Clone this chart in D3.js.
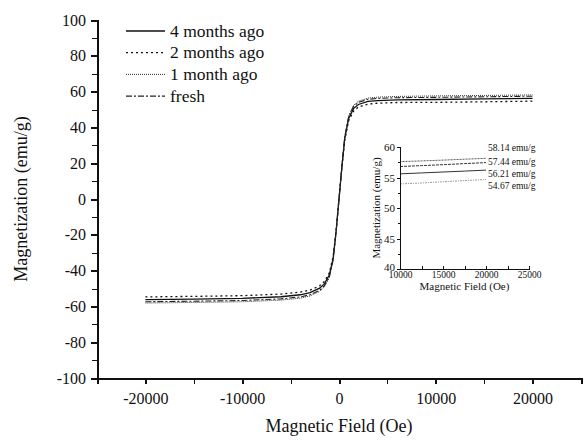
<!DOCTYPE html>
<html>
<head>
    <meta charset="utf-8">
    <style>
        body{
            margin: 0;
            background-color: white;
        }
        svg text{
            font-family: "Liberation Serif", "Times New Roman", serif;
            fill: #111;
        }
        .axis path, .axis line{
            stroke: #111;
            shape-rendering: crispEdges;
        }
        .curve{
            fill: none;
        }
    </style>
</head>
<body>
    <svg class="vis"></svg>

    <script src="https://cdn.jsdelivr.net/npm/d3@7"></script>
    <script>

        var width = 584;
        var height = 440;

        // field values shared by all main curves (Oe)
        var field = [-20000, -15000, -10000, -6000, -4000, -3000, -2000, -1500, -1000, -600, -300, 0,
                     300, 600, 1000, 1500, 2000, 3000, 4000, 6000, 10000, 15000, 20000];

        var m4months = [-56.2, -55.9, -55.5, -54.6, -53.5, -52.3, -49.8, -47.3, -42.5, -33.0, -18.0, 0,
                        18.0, 34.0, 45.0, 50.5, 52.8, 54.5, 55.0, 55.4, 55.6, 55.9, 56.21];
        var m2months = [-54.7, -54.4, -54.0, -53.1, -52.0, -50.9, -48.5, -46.0, -41.3, -32.1, -17.5, 0,
                        17.5, 33.1, 43.8, 49.1, 51.4, 53.0, 53.5, 53.9, 54.0, 54.3, 54.67];
        var m1month  = [-58.1, -57.8, -57.4, -56.5, -55.4, -54.2, -51.6, -49.0, -44.0, -34.2, -18.6, 0,
                        18.6, 35.2, 46.5, 52.3, 54.6, 56.4, 56.9, 57.3, 57.6, 57.85, 58.14];
        var mFresh   = [-57.4, -57.1, -56.7, -55.8, -54.7, -53.5, -51.0, -48.4, -43.4, -33.8, -18.4, 0,
                        18.4, 34.8, 46.0, 51.7, 54.0, 55.7, 56.2, 56.6, 56.8, 57.1, 57.44];

        // inset (zoom on high field part)
        var insetField = [10000, 12500, 15000, 17500, 20000];
        var in4months = [55.6, 55.75, 55.9, 56.05, 56.21];
        var in2months = [53.95, 54.1, 54.3, 54.5, 54.67];
        var in1month  = [57.6, 57.72, 57.85, 58.0, 58.14];
        var inFresh   = [56.8, 56.95, 57.1, 57.28, 57.44];
        var insetLabels = ["58.14 emu/g", "57.44 emu/g", "56.21 emu/g", "54.67 emu/g"];

        var seriesNames = ["4 months ago", "2 months ago", "1 month ago", "fresh"];

        var xTicks = [-20000, -10000, 0, 10000, 20000];
        var yTicks = [-100, -80, -60, -40, -20, 0, 20, 40, 60, 80, 100];
        var insetXTicks = [10000, 15000, 20000, 25000];
        var insetYTicks = [40, 45, 50, 55, 60];

        var styles = [
            {dash: null, w: 1.3, c: "#111"},
            {dash: "2,3", w: 1.3, c: "#111"},
            {dash: "1,1", w: 1.0, c: "#333"},
            {dash: "6,2,2,2", w: 1.1, c: "#222"}
        ];

        var mainSeries = [m4months, m2months, m1month, mFresh];
        var insetSeries = [in4months, in2months, in1month, inFresh];

        // plain labels: hyphen minus, no thousands separator
        var plain = d => String(d);

        var vis = d3.select("svg.vis")
                 .attr("width", width)
                 .attr("height", height);

        // ---- main chart ----
        var x = d3.scaleLinear().domain([-25000, 25000]).range([97, 581]);
        var y = d3.scaleLinear().domain([-100, 100]).range([378, 20]);

        var line = d3.line()
            .x(d => x(d[0]))
            .y(d => y(d[1]));

        var plot = vis.append("g").attr("class", "plotArea");
        mainSeries.forEach(function(m, i){
            plot.append("path")
                .attr("class", "curve")
                .datum(field.map((h, j) => [h, m[j]]))
                .attr("d", line)
                .attr("stroke", styles[i].c)
                .attr("stroke-width", styles[i].w)
                .attr("stroke-dasharray", styles[i].dash);
        });

        // minor ticks first, then major with labels
        vis.append("g")
            .attr("class", "axis")
            .attr("transform", "translate(0," + y(-100) + ")")
            .call(d3.axisBottom(x).tickValues(d3.range(-25000, 25001, 5000)).tickSize(6).tickFormat(""))
            .call(g => g.select("path").attr("stroke-width", 2));

        vis.append("g")
            .attr("class", "axis")
            .attr("transform", "translate(0," + y(-100) + ")")
            .call(d3.axisBottom(x).tickValues(xTicks).tickSize(6).tickPadding(9).tickFormat(plain))
            .call(g => g.select("path").remove())
            .call(g => g.selectAll("line").attr("stroke-width", 2))
            .call(g => g.selectAll("text").attr("font-size", "16px"));

        vis.append("g")
            .attr("class", "axis")
            .attr("transform", "translate(" + x(-25000) + ",0)")
            .call(d3.axisLeft(y).tickValues(d3.range(-100, 101, 10)).tickSize(5).tickFormat(""))
            .call(g => g.select("path").attr("stroke-width", 2));

        vis.append("g")
            .attr("class", "axis")
            .attr("transform", "translate(" + x(-25000) + ",0)")
            .call(d3.axisLeft(y).tickValues(yTicks).tickSize(6).tickPadding(5).tickFormat(plain))
            .call(g => g.select("path").remove())
            .call(g => g.selectAll("line").attr("stroke-width", 2))
            .call(g => g.selectAll("text").attr("font-size", "16px"));

        vis.append("text")
            .attr("x", x(0))
            .attr("y", 432)
            .attr("text-anchor", "middle")
            .attr("font-size", "18px")
            .text("Magnetic Field (Oe)");

        vis.append("text")
            .attr("transform", "translate(27," + y(0) + ") rotate(-90)")
            .attr("text-anchor", "middle")
            .attr("font-size", "18px")
            .text("Magnetization (emu/g)");

        // legend
        var legend = vis.append("g").attr("class", "legend");
        seriesNames.forEach(function(name, i){
            var ly = 31 + i * 21.7;
            legend.append("line")
                .attr("x1", 126).attr("x2", 165)
                .attr("y1", ly).attr("y2", ly)
                .attr("stroke", styles[i].c)
                .attr("stroke-width", styles[i].w)
                .attr("stroke-dasharray", styles[i].dash);
            legend.append("text")
                .attr("x", 170)
                .attr("y", ly + 5.5)
                .attr("font-size", "17.5px")
                .text(name);
        });

        // ---- inset ----
        var ix = d3.scaleLinear().domain([10000, 25000]).range([400, 529]);
        var iy = d3.scaleLinear().domain([40, 60]).range([269, 147]);

        var iline = d3.line()
            .x(d => ix(d[0]))
            .y(d => iy(d[1]));

        var inset = vis.append("g").attr("class", "inset");
        insetSeries.forEach(function(m, i){
            inset.append("path")
                .attr("class", "curve")
                .datum(insetField.map((h, j) => [h, m[j]]))
                .attr("d", iline)
                .attr("stroke", i === 1 ? "#999" : (i === 2 ? "#555" : "#333"))
                .attr("stroke-width", 1)
                .attr("stroke-dasharray", i === 1 ? "2,1,1,1" : (i === 3 ? "3,1" : (i === 2 ? "1,0.5" : null)));
        });

        inset.append("g")
            .attr("class", "axis")
            .attr("transform", "translate(0," + iy(40) + ")")
            .call(d3.axisTop(ix).tickValues(d3.range(10000, 25001, 2500)).tickSize(3).tickFormat(""))
            .call(g => g.select("path").attr("stroke", "#555").attr("stroke-width", 1))
            .call(g => g.selectAll("line").attr("stroke", "#555"));

        inset.append("g")
            .attr("class", "axis")
            .attr("transform", "translate(0," + iy(40) + ")")
            .call(d3.axisBottom(ix).tickValues(insetXTicks).tickSize(0).tickPadding(2).tickFormat(plain))
            .call(g => g.select("path").remove())
            .call(g => g.selectAll("text").attr("font-size", "9.5px"));

        inset.append("g")
            .attr("class", "axis")
            .attr("transform", "translate(" + ix(10000) + ",0)")
            .call(d3.axisLeft(iy).tickValues(d3.range(40, 60.1, 2.5)).tickSize(2).tickFormat(""))
            .call(g => g.select("path").attr("stroke", "#555").attr("stroke-width", 1))
            .call(g => g.selectAll("line").attr("stroke", "#555"));

        inset.append("g")
            .attr("class", "axis")
            .attr("transform", "translate(" + ix(10000) + ",0)")
            .call(d3.axisLeft(iy).tickValues(insetYTicks).tickSize(3).tickPadding(2).tickFormat(plain))
            .call(g => g.select("path").remove())
            .call(g => g.selectAll("line").attr("stroke", "#555"))
            .call(g => g.selectAll("text").attr("font-size", "11px"))
            .call(g => g.selectAll("text").filter(d => d === 40).attr("dy", "0.1em"));

        inset.append("text")
            .attr("x", (ix(10000) + ix(25000)) / 2)
            .attr("y", 290)
            .attr("text-anchor", "middle")
            .attr("font-size", "11px")
            .text("Magnetic Field (Oe)");

        inset.append("text")
            .attr("transform", "translate(380," + iy(50) + ") rotate(-90)")
            .attr("text-anchor", "middle")
            .attr("font-size", "11px")
            .text("Magnetization (emu/g)");

        insetLabels.forEach(function(t, i){
            inset.append("text")
                .attr("x", 488)
                .attr("y", [150.7, 164.7, 176.7, 189.3][i])
                .attr("font-size", "9.5px")
                .text(t);
        });

    </script>
</body>
</html>
